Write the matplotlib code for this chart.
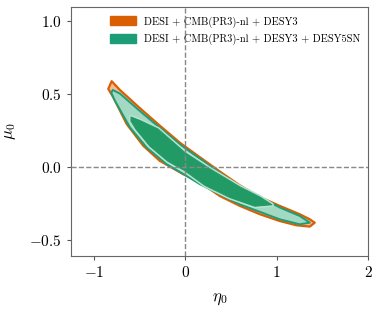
import numpy as np
import matplotlib
matplotlib.use("Agg")
import matplotlib.pyplot as plt

plt.rcParams['font.family'] = 'cmr10'
plt.rcParams['mathtext.fontset'] = 'cm'
plt.rcParams['axes.formatter.use_mathtext'] = True

# contour outlines (eta0, mu0)
orange95_eta = [-0.841, -0.804, -0.714, -0.495, -0.277, -0.058, 0.161, 0.379, 0.598, 0.816,
                1.035, 1.253, 1.363, 1.417, 1.363, 1.217, 1.035, 0.816, 0.598, 0.379,
                0.161, -0.022, -0.277, -0.459, -0.640, -0.787]
orange95_mu = [0.537, 0.590, 0.530, 0.405, 0.285, 0.168, 0.068, -0.030, -0.125, -0.205,
               -0.266, -0.323, -0.358, -0.381, -0.408, -0.399, -0.370, -0.323, -0.266, -0.198,
               -0.103, -0.048, 0.043, 0.147, 0.296, 0.480]

green95_eta = [-0.793, -0.714, -0.495, -0.277, -0.058, 0.161, 0.379, 0.598, 1.035, 1.253,
               1.363, 1.253, 1.035, 0.598, 0.161, 0.015, -0.203, -0.422, -0.604, -0.768,
               -0.807]
green95_mu = [0.530, 0.505, 0.385, 0.270, 0.156, 0.058, -0.040, -0.133, -0.277, -0.335,
              -0.381, -0.392, -0.358, -0.255, -0.117, -0.060, 0.021, 0.136, 0.273, 0.456,
              0.509]

green68_eta = [-0.592, -0.495, -0.298, -0.003, 0.270, 0.598, 0.816, 0.948,
               0.762, 0.489, 0.215, -0.003, -0.189, -0.386, -0.539, -0.593]
green68_mu = [0.344, 0.320, 0.262, 0.100, -0.012, -0.136, -0.205, -0.258,
              -0.268, -0.208, -0.124, -0.024, 0.041, 0.145, 0.262, 0.317]

labels = ['DESI + CMB(PR3)-nl + DESY3', 'DESI + CMB(PR3)-nl + DESY3 + DESY5SN']
colors = ['#d95f02', '#1b9e77']

fig = plt.figure(figsize=(3.81, 3.13), dpi=100)
ax = fig.add_axes([0.186, 0.182, 0.78, 0.796])

ax.fill(orange95_eta, orange95_mu, facecolor='#f6b996', edgecolor=colors[0], lw=1.6,
        joinstyle='round', zorder=2)
ax.fill(green95_eta, green95_mu, facecolor='#a3d9c2', edgecolor=colors[1], lw=1.4,
        joinstyle='round', zorder=3)
# pale rim around the inner contour
ax.fill(green68_eta, green68_mu, facecolor='none', edgecolor='#b8e3d0', lw=3.0,
        joinstyle='round', zorder=4)
ax.fill(green68_eta, green68_mu, facecolor='#229a66', edgecolor='#229a66', lw=0.8,
        joinstyle='round', zorder=5)

ax.axvline(0, color='#888888', ls='--', lw=1.0, zorder=6)
ax.axhline(0, color='#888888', ls='--', lw=1.0, zorder=6)

ax.set_xlim(-1.25, 2.0)
ax.set_ylim(-0.61, 1.1)
ax.set_xticks([-1, 0, 1, 2])
ax.set_yticks([-0.5, 0.0, 0.5, 1.0])
ax.set_xlabel(r'$\eta_0$', fontsize=12, labelpad=8)
ax.set_ylabel(r'$\mu_0$', fontsize=12, labelpad=8)
ax.tick_params(labelsize=11, length=3, color='#555555')
for s in ax.spines.values():
    s.set_color('#666666')

handles = [plt.Rectangle((0, 0), 1, 1, color=c) for c in colors]
ax.legend(handles, labels, loc='upper left', bbox_to_anchor=(0.1, 1.0), frameon=False,
          fontsize=7.5, handlelength=2.5, handleheight=0.9, labelspacing=0.6)

fig.savefig('out.png', dpi=100)
